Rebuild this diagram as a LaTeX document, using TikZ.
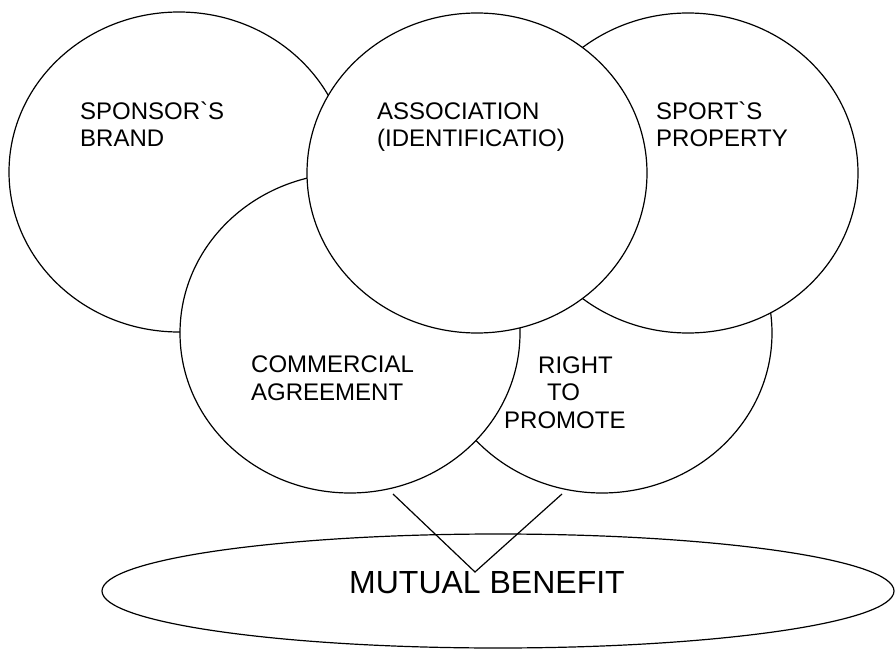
\documentclass[tikz,border=0pt]{standalone}
\usepackage{fontspec}
\setmainfont{Liberation Sans}[Ligatures=TeXOff]
\usetikzlibrary{shapes.geometric}

\begin{document}
\begin{tikzpicture}[x=1pt, y=-1pt,
    bubble/.style={ellipse, draw, fill=white, line width=1.2pt,
      minimum width=340pt, minimum height=320pt, inner sep=0pt},
    tag/.style={anchor=base west, align=left, inner sep=0pt,
      font=\fontsize{24}{27.5}\selectfont}]
  \useasboundingbox (0,0) rectangle (895,650);
  % circles, from the back to the front
  \node[bubble] (brand) at (179,172) {};
  \node[bubble] (promote) at (602,333) {};
  \node[bubble] (property) at (688,173) {};
  \node[bubble] (commercial) at (350,333) {};
  \node[bubble] (association) at (477,173) {};
  % \node[bubble] (extra) at (500,400) {};
  % labels sit on the baseline of their last line
  \node[tag] (brandtxt) at (80,147) {SPONSOR`S\\BRAND};
  \node[tag] (assoctxt) at (377,147) {ASSOCIATION\\(IDENTIFICATIO)};
  \node[tag] (proptxt) at (656,147) {SPORT`S\\PROPERTY};
  \node[tag] (commtxt) at (251,400) {COMMERCIAL\\AGREEMENT};
  \node[tag] (promtxt) at (504,428) {\hspace{34pt}RIGHT\\\hspace{43pt}TO\\PROMOTE};
  % outcome
  \node[ellipse, draw, line width=1.2pt, minimum width=792pt, minimum height=114pt,
    inner sep=0pt] (benefit) at (498,591) {};
  \node[anchor=base, inner sep=0pt, font=\fontsize{32}{36}\selectfont]
    (benefittxt) at (487,593) {MUTUAL BENEFIT};
  \coordinate (vleft) at (393,494);
  \coordinate (vtip) at (475,572);
  \coordinate (vright) at (562,494);
  \draw[line width=1.2pt] (vleft) -- (vtip) -- (vright);
\end{tikzpicture}
\end{document}
